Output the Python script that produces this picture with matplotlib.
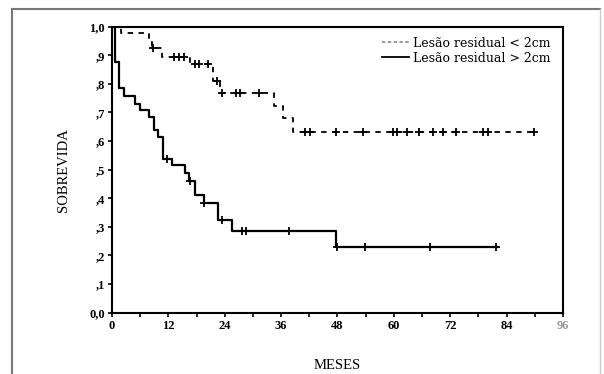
import numpy as np
import matplotlib
matplotlib.use("Agg")
import matplotlib.pyplot as plt
from matplotlib.lines import Line2D

# ---- data ----
lt2_times = [0, 2.0, 7.8, 8.5, 10.6, 16.6, 21.4, 23.0, 34.5, 36.5, 38.6]
lt2_surv = [1.0, 0.977, 0.948, 0.925, 0.895, 0.869, 0.810, 0.769, 0.723, 0.680, 0.633]
lt2_end = 90.0
lt2_censor = [8.7, 13.2, 14.3, 15.3, 17.7, 18.6, 20.5, 22.3, 23.4, 26.4, 27.3, 31.2,
              41.0, 42.1, 47.6, 53.5, 59.9, 60.6, 62.8, 65.4, 68.4, 70.5, 73.2,
              79.0, 80.1, 89.8]

gt2_times = [0, 0.7, 1.6, 2.6, 4.9, 6.0, 7.8, 9.0, 9.9, 10.8, 12.8, 15.5, 16.5,
             17.7, 19.5, 22.6, 25.6, 47.7]
gt2_surv = [1.0, 0.878, 0.785, 0.759, 0.730, 0.709, 0.685, 0.639, 0.613, 0.536,
            0.516, 0.489, 0.462, 0.410, 0.383, 0.324, 0.287, 0.231]
gt2_end = 82.0
gt2_censor = [11.7, 16.6, 19.6, 23.5, 27.7, 28.6, 37.7, 48.0, 53.8, 67.8, 81.8]

labels = ["Lesão residual < 2cm", "Lesão residual > 2cm"]
x_ticks = [0, 12, 24, 36, 48, 60, 72, 84, 96]
y_ticks = [0.0, 0.1, 0.2, 0.3, 0.4, 0.5, 0.6, 0.7, 0.8, 0.9, 1.0]
y_ticklabels = ["0,0", ",1", ",2", ",3", ",4", ",5", ",6", ",7", ",8", ",9", "1,0"]


def km_surv_at(times, surv, t):
    idx = np.searchsorted(times, t, side="right") - 1
    return np.asarray(surv)[idx]


fig = plt.figure(figsize=(6.04, 3.74), dpi=100)
ax = fig.add_axes([0.1854, 0.164, 0.7466, 0.7646])

# dashed curve (< 2cm)
tx = list(lt2_times) + [lt2_end]
sy = list(lt2_surv) + [lt2_surv[-1]]
ax.step(tx, sy, where="post", color="black", lw=1.3, linestyle=(0, (3, 3)))
ax.plot(lt2_censor, km_surv_at(lt2_times, lt2_surv, lt2_censor), "+",
        color="black", ms=5.5, mew=1.3)

# solid curve (> 2cm)
tx = list(gt2_times) + [gt2_end]
sy = list(gt2_surv) + [gt2_surv[-1]]
ax.step(tx, sy, where="post", color="black", lw=1.6)
ax.plot(gt2_censor, km_surv_at(gt2_times, gt2_surv, gt2_censor), "+",
        color="black", ms=5.5, mew=1.3)

ax.set_xlim(0, 96)
ax.set_ylim(0, 1.0)
ax.set_xticks(x_ticks)
ax.set_xticks(np.arange(6, 96, 12), minor=True)
ax.set_xticklabels([str(v) for v in x_ticks], fontweight="bold",
                   family="Liberation Serif", fontsize=9)
ax.set_yticks(y_ticks)
ax.set_yticklabels(y_ticklabels, fontweight="bold", family="Liberation Serif",
                   fontsize=9)
ax.get_xticklabels()[-1].set_color("#999999")
ax.tick_params(axis="both", which="both", direction="out", length=3, width=1.2,
               pad=2)
for s in ax.spines.values():
    s.set_linewidth(1.5)

ax.set_ylabel("SOBREVIDA", family="Liberation Serif", fontsize=10.5, labelpad=14)
ax.set_xlabel("MESES", family="Liberation Serif", fontsize=10.5, labelpad=20)

handles = [Line2D([], [], color="#888888", lw=1.2, linestyle=(0, (2, 1.5))),
           Line2D([], [], color="black", lw=1.3)]
ax.legend(handles, labels, loc="upper right", bbox_to_anchor=(0.995, 1.0),
          frameon=False, prop={"family": "DejaVu Serif", "size": 9},
          handlelength=2.2, handletextpad=0.3, labelspacing=0.15,
          borderaxespad=0.4)

# outer frame of the scanned figure
fig.add_artist(Line2D([12 / 604, 600 / 604], [1 - 9 / 374, 1 - 9 / 374],
                      transform=fig.transFigure, color="#777777", lw=1.5))
fig.add_artist(Line2D([12 / 604, 12 / 604], [0, 1 - 9 / 374],
                      transform=fig.transFigure, color="#777777", lw=1.5))
fig.add_artist(Line2D([600 / 604, 600 / 604], [0, 1 - 9 / 374],
                      transform=fig.transFigure, color="#cccccc", lw=1.0))

fig.savefig("out.png", dpi=100)
